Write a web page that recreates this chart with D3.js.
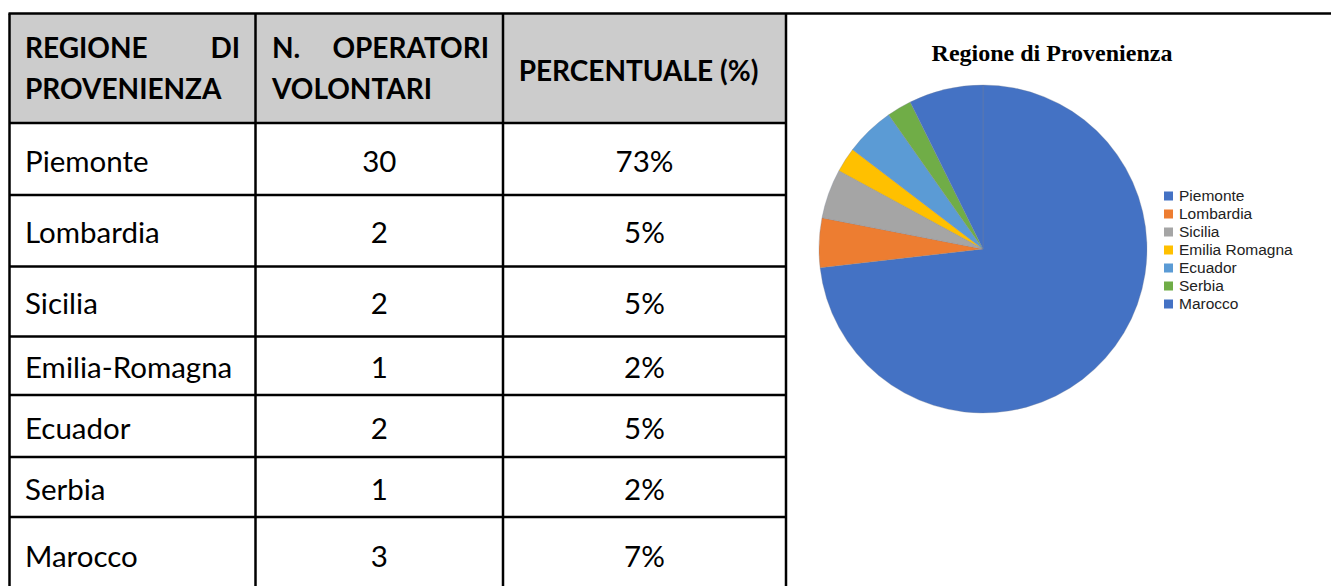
<!DOCTYPE html>
<html>
<head>
<meta charset="utf-8">
<script src="https://cdn.jsdelivr.net/npm/d3@7/dist/d3.min.js"></script>
<style>
  html, body { margin: 0; padding: 0; background: #ffffff; }
  svg { display: block; }
</style>
</head>
<body>
<svg id="chart" width="1331" height="586"></svg>
<script>
// ---- data ----
const regions = ["Piemonte", "Lombardia", "Sicilia", "Emilia-Romagna", "Ecuador", "Serbia", "Marocco"];
const operators = [30, 2, 2, 1, 2, 1, 3];
const percentLabels = ["73%", "5%", "5%", "2%", "5%", "2%", "7%"];
const legendLabels = ["Piemonte", "Lombardia", "Sicilia", "Emilia Romagna", "Ecuador", "Serbia", "Marocco"];
const sliceColors = ["#4472C4", "#ED7D31", "#A5A5A5", "#FFC000", "#5B9BD5", "#70AD47", "#4472C4"];
const headerCol1 = [["REGIONE", "DI"], ["PROVENIENZA"]];
const headerCol2 = [["N.", "OPERATORI"], ["VOLONTARI"]];
const headerCol3 = "PERCENTUALE (%)";
const chartTitle = "Regione di Provenienza";

// ---- layout ----
const svg = d3.select("#chart");
const colEdges = [9.5, 255.5, 503, 786];
const rowEdges = [13.5, 123, 195, 266.5, 336.5, 395, 457, 517, 592];
const bodyFont = "Lato, 'Open Sans', sans-serif";
const bodySize = 29.5;

// header background
svg.append("rect")
  .attr("x", colEdges[0]).attr("y", rowEdges[0])
  .attr("width", colEdges[3] - colEdges[0]).attr("height", rowEdges[1] - rowEdges[0])
  .attr("fill", "#cccccc");

const rowScale = d3.scaleOrdinal().domain(regions).range(regions.map((d, i) => i + 1));

// body text
const rows = svg.append("g").selectAll("g").data(regions).join("g");
rows.each(function(d, i) {
  const r = rowScale(d);
  const mid = (rowEdges[r] + rowEdges[r + 1]) / 2;
  const g = d3.select(this);
  const base = mid + 12.5;
  g.append("text").attr("x", 25).attr("y", base)
    .attr("font-family", bodyFont).attr("font-size", bodySize).attr("fill", "#000")
    .text(d);
  g.append("text").attr("x", (colEdges[1] + colEdges[2]) / 2).attr("y", base)
    .attr("text-anchor", "middle")
    .attr("font-family", bodyFont).attr("font-size", bodySize).attr("fill", "#000")
    .text(operators[i]);
  g.append("text").attr("x", (colEdges[2] + colEdges[3]) / 2).attr("y", base)
    .attr("text-anchor", "middle")
    .attr("font-family", bodyFont).attr("font-size", bodySize).attr("fill", "#000")
    .text(percentLabels[i]);
});

// header text
function headerCell(lines, left, right) {
  lines.forEach((words, li) => {
    const y = li === 0 ? 58 : 99;
    if (words.length === 2) {
      svg.append("text").attr("x", left).attr("y", y)
        .attr("font-family", bodyFont).attr("font-weight", "bold").attr("font-size", 28)
        .text(words[0]);
      svg.append("text").attr("x", right).attr("y", y).attr("text-anchor", "end")
        .attr("font-family", bodyFont).attr("font-weight", "bold").attr("font-size", 28)
        .text(words[1]);
    } else {
      svg.append("text").attr("x", left).attr("y", y)
        .attr("font-family", bodyFont).attr("font-weight", "bold").attr("font-size", 28)
        .text(words[0]);
    }
  });
}
headerCell(headerCol1, 25, 240);
headerCell(headerCol2, 272, 489);
svg.append("text").attr("x", (colEdges[2] + colEdges[3]) / 2 - 6).attr("y", 81)
  .attr("text-anchor", "middle")
  .attr("font-family", bodyFont).attr("font-weight", "bold").attr("font-size", 28)
  .text(headerCol3);

// grid lines
const grid = svg.append("g").attr("stroke", "#000").attr("stroke-width", 2.5);
grid.append("line").attr("x1", colEdges[0] - 1).attr("x2", 1331).attr("y1", rowEdges[0]).attr("y2", rowEdges[0]);
rowEdges.slice(1, -1).forEach(y => {
  grid.append("line").attr("x1", colEdges[0]).attr("x2", colEdges[3]).attr("y1", y).attr("y2", y);
});
colEdges.forEach(x => {
  grid.append("line").attr("x1", x).attr("x2", x).attr("y1", rowEdges[0]).attr("y2", 586);
});

// ---- pie ----
const cx = 983, cy = 249, radius = 164;
const pie = d3.pie().sort(null).value(d => d);
const arc = d3.arc().innerRadius(0).outerRadius(radius);
const pg = svg.append("g").attr("transform", `translate(${cx},${cy})`);
pg.selectAll("path").data(pie(operators)).join("path")
  .attr("d", arc)
  .attr("fill", (d, i) => sliceColors[i])
  .attr("stroke", "rgba(120,130,150,0.45)")
  .attr("stroke-width", 0.7);

// title
svg.append("text").attr("x", 1052).attr("y", 61).attr("text-anchor", "middle")
  .attr("font-family", "'Liberation Serif', 'Times New Roman', serif")
  .attr("font-weight", "bold").attr("font-size", 24).attr("fill", "#000")
  .text(chartTitle);

// legend
const legendY = d3.scalePoint().domain(legendLabels).range([196, 304]);
const lg = svg.append("g").selectAll("g").data(legendLabels).join("g")
  .attr("transform", d => `translate(1164,${legendY(d)})`);
lg.append("rect").attr("x", 0).attr("y", -4.5).attr("width", 9).attr("height", 9)
  .attr("fill", (d, i) => sliceColors[i]);
lg.append("text").attr("x", 15).attr("y", 5)
  .attr("font-family", "'Liberation Sans', Arial, sans-serif").attr("font-size", 15.5)
  .attr("fill", "#222")
  .text(d => d);
</script>
</body>
</html>
